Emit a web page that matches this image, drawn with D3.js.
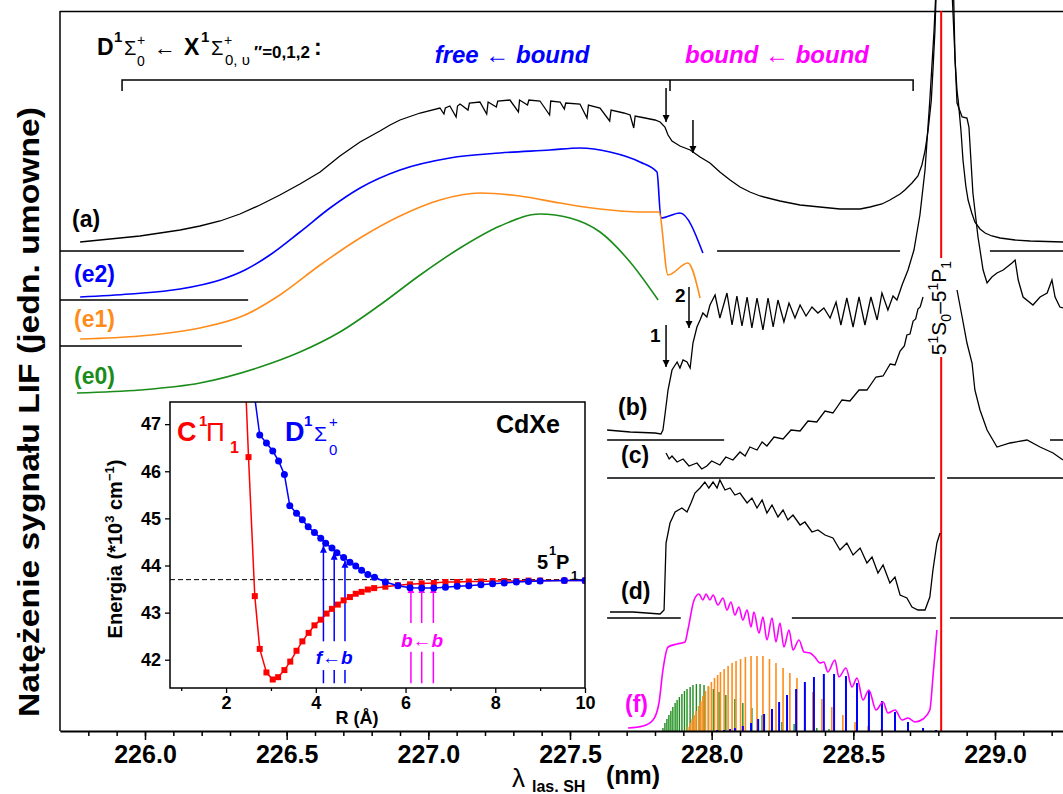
<!DOCTYPE html>
<meta charset="utf-8" />
<style>
  body { margin: 0; background: #fff; }
  svg text { font-family: "Liberation Sans", Arial, sans-serif; }
</style>
<svg width="1063" height="794"></svg>
<script src="https://d3js.org/d3.v7.min.js"></script>
<script>
// ---- widma LIF: [lambda (nm), natezenie (jedn. umowne)] ----
var traceA = [[225.771,489],[225.841,491],[225.912,493],[225.982,495],[226.053,498],[226.124,501],[226.194,505],[226.265,510],[226.335,517],[226.406,526],[226.476,536],[226.547,547],[226.618,559],[226.688,575],[226.759,589],[226.829,600],[226.865,606],[226.900,611],[226.971,618],[227.041,623],[227.055,617],[227.060,623],[227.076,625],[227.098,614],[227.103,625],[227.112,627],[227.140,621],[227.145,628],[227.182,629],[227.206,617],[227.211,629],[227.240,624],[227.245,630],[227.288,631],[227.318,619],[227.322,631],[227.350,626],[227.355,631],[227.394,630],[227.428,616],[227.432,630],[227.465,629],[227.480,622],[227.485,628],[227.535,627],[227.560,613],[227.565,626],[227.606,623],[227.640,610],[227.645,621],[227.690,618],[227.712,616],[227.725,603],[227.730,615],[227.765,613],[227.782,612],[227.800,611],[227.818,609],[227.835,604],[227.846,596],[227.860,590],[227.888,585],[227.924,581],[227.959,574],[227.994,568],[228.029,559],[228.065,551],[228.100,544],[228.135,539],[228.171,535],[228.241,530],[228.312,526],[228.382,524],[228.453,522],[228.524,522],[228.559,524],[228.601,527],[228.629,531],[228.665,537],[228.682,541],[228.707,548],[228.728,555],[228.742,566],[228.753,580],[228.764,601],[228.775,630],[228.781,661],[228.788,700],[228.795,761],[228.852,761],[228.859,671],[228.866,640],[228.870,631],[228.880,600],[228.887,571],[228.897,545],[228.905,531],[228.918,518],[228.929,509],[228.947,502],[228.965,498],[228.989,495],[229.018,493],[229.071,491],[229.124,490],[229.240,489]];

var traceB = [[227.631,301],[227.712,299],[227.800,298],[227.821,297],[227.828,301],[227.835,316],[227.846,341],[227.860,361],[227.878,369],[227.888,363],[227.899,371],[227.913,369],[227.924,363],[227.934,388],[227.948,404],[227.959,411],[227.969,418],[227.983,414],[227.994,426],[228.012,436],[228.029,413],[228.054,438],[228.072,406],[228.089,435],[228.107,405],[228.125,434],[228.142,403],[228.160,433],[228.181,401],[228.199,433],[228.217,404],[228.234,431],[228.255,409],[228.273,428],[228.294,413],[228.312,426],[228.333,415],[228.354,424],[228.375,418],[228.396,423],[228.418,413],[228.439,429],[228.456,406],[228.477,433],[228.499,404],[228.520,434],[228.541,406],[228.562,434],[228.584,411],[228.601,438],[228.622,421],[228.640,435],[228.654,431],[228.672,446],[228.693,461],[228.714,481],[228.735,516],[228.753,561],[228.770,631],[228.785,701],[228.795,761],[228.845,761],[228.866,628],[228.884,614],[228.901,613],[228.908,604],[228.922,538],[228.940,494],[228.958,461],[228.972,448],[228.989,454],[229.007,458],[229.029,461],[229.060,468],[229.071,471],[229.082,451],[229.099,434],[229.134,426],[229.159,434],[229.184,438],[229.201,451],[229.212,434],[229.229,424],[229.240,423]];

var traceCleft = [[227.839,278],[227.850,272],[227.860,275],[227.878,269],[227.899,272],[227.920,265],[227.948,268],[227.965,262],[227.983,265],[228.000,270],[228.029,266],[228.050,274],[228.075,271],[228.100,279],[228.118,275],[228.135,284],[228.160,281],[228.178,289],[228.195,285],[228.220,294],[228.252,292],[228.280,301],[228.312,300],[228.340,310],[228.371,309],[228.400,320],[228.428,318],[228.460,331],[228.488,330],[228.520,341],[228.548,341],[228.580,354],[228.605,355],[228.630,367],[228.647,366],[228.665,380],[228.680,385],[228.689,396],[228.700,397],[228.711,410],[228.720,412],[228.728,422],[228.736,424],[228.746,434]];
var traceCright = [[228.866,441],[228.884,414],[228.901,388],[228.919,368],[228.929,341],[228.947,321],[228.972,301],[229.007,284],[229.053,288],[229.113,291],[229.159,284],[229.205,278],[229.240,271]];

var traceD = [[227.641,119],[227.722,119],[227.818,117],[227.832,121],[227.839,188],[227.853,208],[227.871,219],[227.895,223],[227.913,219],[227.927,228],[227.941,238],[227.959,243],[227.976,249],[227.990,243],[228.005,249],[228.019,243],[228.029,251],[228.047,241],[228.065,243],[228.082,236],[228.100,238],[228.125,228],[228.142,233],[228.160,223],[228.178,231],[228.195,218],[228.213,226],[228.234,214],[228.252,221],[228.269,211],[228.287,216],[228.312,206],[228.329,209],[228.354,199],[228.375,201],[228.400,196],[228.428,193],[228.453,181],[228.477,188],[228.499,176],[228.524,183],[228.548,168],[228.566,174],[228.587,158],[228.605,166],[228.629,148],[228.647,154],[228.665,136],[228.689,133],[228.707,124],[228.728,121],[228.753,121],[228.770,134],[228.781,161],[228.795,188],[228.806,198]];

var traceF = [[227.705,3],[227.758,5],[227.793,11],[227.814,28],[227.828,61],[227.846,84],[227.878,87],[227.906,89],[227.916,101],[227.938,131],[227.955,137],[227.969,131],[227.980,137],[227.994,131],[228.005,136],[228.022,126],[228.040,133],[228.054,121],[228.068,129],[228.082,116],[228.096,124],[228.110,111],[228.125,121],[228.139,104],[228.149,119],[228.167,98],[228.181,114],[228.195,91],[228.213,113],[228.227,89],[228.241,108],[228.255,84],[228.273,101],[228.287,81],[228.308,91],[228.326,79],[228.347,78],[228.364,74],[228.382,68],[228.396,69],[228.410,59],[228.435,71],[228.449,54],[228.474,63],[228.495,44],[228.513,53],[228.534,31],[228.555,41],[228.580,21],[228.605,29],[228.622,18],[228.647,21],[228.672,11],[228.693,13],[228.718,9],[228.746,12],[228.770,21],[228.781,54],[228.795,101]];

// symulacje (e2, e1, e0)
var simE2 = [[225.771,434],[225.947,437],[226.124,442],[226.265,451],[226.353,461],[226.441,476],[226.547,499],[226.653,523],[226.759,543],[226.900,561],[227.076,573],[227.253,578],[227.429,581],[227.535,583],[227.641,579],[227.747,569],[227.807,559],[227.821,513],[227.888,518],[227.969,478]];
var simE1 = [[225.771,392],[225.982,395],[226.194,403],[226.353,416],[226.476,436],[226.618,466],[226.759,493],[226.900,515],[227.041,531],[227.182,538],[227.323,535],[227.465,528],[227.606,522],[227.747,519],[227.814,519],[227.846,456],[227.916,468],[227.959,433]];
var simE0 = [[225.760,338],[225.982,341],[226.194,348],[226.406,364],[226.547,379],[226.688,399],[226.829,426],[226.971,456],[227.112,483],[227.253,505],[227.394,517],[227.500,513],[227.606,499],[227.712,469],[227.811,431]];

// linie widma (f): [lambda, intensywnosc] dla v'' = 0, 1, 2
var barsV0 = [[227.828,3],[227.835,8],[227.842,12],[227.849,16],[227.856,20],[227.863,24],[227.871,28],[227.878,31],[227.886,34],[227.895,37],[227.904,40],[227.913,42],[227.924,44],[227.934,46],[227.946,47],[227.959,47],[227.973,46],[227.989,44],[228.006,42],[228.026,39],[228.050,36],[228.082,32],[228.110,28],[228.142,23],[228.178,16],[228.213,11],[228.248,9],[228.291,7],[228.329,5],[228.371,3],[228.414,2],[228.463,1]];
var barsV1 = [[227.916,4],[227.924,8],[227.931,12],[227.938,16],[227.945,20],[227.954,25],[227.962,30],[227.969,35],[227.978,40],[227.988,45],[227.999,49],[228.010,53],[228.021,56],[228.031,59],[228.044,62],[228.058,65],[228.072,68],[228.086,70],[228.102,72],[228.119,74],[228.139,75],[228.160,75],[228.181,75],[228.204,72],[228.227,68],[228.252,63],[228.276,58],[228.301,53],[228.329,46],[228.357,39],[228.389,32],[228.424,24],[228.463,16],[228.506,9],[228.552,5],[228.598,2]];
var barsV2 = [[228.019,1],[228.044,1],[228.065,2],[228.082,3],[228.110,5],[228.139,8],[228.164,12],[228.185,17],[228.213,22],[228.238,29],[228.266,36],[228.298,42],[228.329,49],[228.361,54],[228.396,57],[228.432,57],[228.474,55],[228.513,48],[228.555,40],[228.601,30],[228.647,19],[228.693,9],[228.746,3],[228.792,1]];

// poziomy zerowe: [od, do, poziom]
var baselines = [[225.700,226.349,480],[228.019,228.665,480],[228.982,229.240,480],
  [225.700,226.364,431],[225.700,226.342,385],
  [227.631,228.044,291],[229.194,229.240,291],
  [227.631,228.788,253],[228.831,229.240,253],
  [227.631,227.891,113],[228.283,228.792,113],[228.841,229.240,113]];

var cdLine = 228.81;
var arrows = [[227.839,643,609],[227.934,611,578],[227.839,406,364],[227.920,444,403]];
var bracketX = [225.919, 227.853, 228.711];
var majorTicks = [226.0, 226.5, 227.0, 227.5, 228.0, 228.5, 229.0];

// ---- wstawka: krzywe potencjalu CdXe [R (A), E (10^3 cm-1)] ----
var stateD = [[2.62,47.7],[2.75,46.77],[2.90,46.60],[3.04,46.43],[3.17,46.22],[3.30,45.93],[3.42,45.27],[3.57,45.11],[3.70,44.97],[3.83,44.82],[3.97,44.70],[4.11,44.58],[4.22,44.47],[4.36,44.37],[4.47,44.27],[4.62,44.17],[4.76,44.07],[4.89,43.99],[5.02,43.90],[5.16,43.81],[5.31,43.75],[5.55,43.65],[5.83,43.57],[6.10,43.53],[6.36,43.52],[6.63,43.52],[6.89,43.54],[7.15,43.56],[7.41,43.57],[7.68,43.59],[7.94,43.61],[8.20,43.63],[8.47,43.65],[8.74,43.66],[9.00,43.67],[9.54,43.68],[10.0,43.68]];
var stateC = [[2.44,47.7],[2.50,46.30],[2.64,43.35],[2.75,42.23],[2.90,41.73],[3.04,41.58],[3.16,41.63],[3.30,41.78],[3.43,41.96],[3.57,42.19],[3.70,42.39],[3.84,42.57],[3.97,42.73],[4.11,42.85],[4.24,42.98],[4.36,43.08],[4.49,43.17],[4.62,43.26],[4.76,43.33],[4.89,43.40],[5.02,43.44],[5.16,43.49],[5.30,43.52],[5.55,43.55],[5.83,43.58],[6.10,43.60],[6.36,43.62],[6.63,43.63],[6.89,43.65],[7.15,43.65],[7.41,43.66],[7.68,43.66],[7.94,43.67],[8.20,43.67],[8.47,43.67],[8.74,43.68],[9.00,43.68],[9.54,43.68],[10.0,43.68]];
var asymptote = 43.70;
var fbR = [4.17, 4.41, 4.65], fbTop = [44.42, 44.27, 44.10];
var bbR = [6.12, 6.36, 6.62], bbTop = [43.56, 43.56, 43.56];

var svg = d3.select("svg");
var x = d3.scaleLinear().domain([225.7, 229.24]).range([60, 1063]);
var y = d3.scaleLinear().domain([0, 720]).range([731, 11]);

var defs = svg.append("defs");
function marker(id, col) {
  defs.append("marker").attr("id", id).attr("viewBox", "0 0 10 10")
    .attr("refX", 10).attr("refY", 5).attr("markerWidth", 7).attr("markerHeight", 8)
    .attr("markerUnits", "userSpaceOnUse").attr("orient", "auto")
    .append("path").attr("d", "M0,0L10,5L0,10Z").attr("fill", col);
}
marker("ah", "#000"); marker("ahb", "#0000ff"); marker("ahm", "#ff00ff");

var lin = d3.line().x(function(d) { return x(d[0]); }).y(function(d) { return y(d[1]); });
var smooth = d3.line().curve(d3.curveMonotoneX).x(function(d) { return x(d[0]); }).y(function(d) { return y(d[1]); });

// frame
svg.append("line").attr("x1", 60).attr("x2", 60).attr("y1", 11).attr("y2", 731).attr("stroke", "#000").attr("stroke-width", 1.5);
svg.append("line").attr("x1", 60).attr("x2", 1063).attr("y1", 11.5).attr("y2", 11.5).attr("stroke", "#000").attr("stroke-width", 1.5);

// baselines
svg.append("g").selectAll("line").data(baselines).enter().append("line")
  .attr("x1", function(d) { return x(d[0]); }).attr("x2", function(d) { return x(d[1]); })
  .attr("y1", function(d) { return y(d[2]); }).attr("y2", function(d) { return y(d[2]); })
  .attr("stroke", "#000").attr("stroke-width", 1.5);

// red Cd line with gap for label
[[0, 374], [473, 720]].forEach(function(s) {
  svg.append("line").attr("x1", x(cdLine)).attr("x2", x(cdLine))
    .attr("y1", y(s[0])).attr("y2", y(s[1])).attr("stroke", "#ff0000").attr("stroke-width", 2);
});

// stick spectra
function bars(data, col, w) {
  svg.append("g").selectAll("line").data(data).enter().append("line")
    .attr("x1", function(d) { return x(d[0]); }).attr("x2", function(d) { return x(d[0]); })
    .attr("y1", y(0)).attr("y2", function(d) { return y(d[1]); })
    .attr("stroke", col).attr("stroke-width", w);
}
bars(barsV0, "#1a8c1a", 1.4);
bars(barsV1, "#ff8c1a", 1.6);
bars(barsV2, "#0000ff", 2);

// simulations
svg.append("path").datum(simE2).attr("d", smooth).attr("fill", "none").attr("stroke", "#0000ff").attr("stroke-width", 1.6);
svg.append("path").datum(simE1).attr("d", smooth).attr("fill", "none").attr("stroke", "#ff8c1a").attr("stroke-width", 1.6);
svg.append("path").datum(simE0).attr("d", smooth).attr("fill", "none").attr("stroke", "#1a8c1a").attr("stroke-width", 1.6);
svg.append("path").datum(traceF).attr("d", smooth).attr("fill", "none").attr("stroke", "#ff00ff").attr("stroke-width", 1.6);

// measured traces
[traceA, traceB, traceCleft, traceCright, traceD].forEach(function(t) {
  svg.append("path").datum(t).attr("d", lin).attr("fill", "none").attr("stroke", "#000").attr("stroke-width", 1.3);
});

// arrows
svg.append("g").selectAll("line").data(arrows).enter().append("line")
  .attr("x1", function(d) { return x(d[0]); }).attr("x2", function(d) { return x(d[0]); })
  .attr("y1", function(d) { return y(d[1]); }).attr("y2", function(d) { return y(d[2]); })
  .attr("stroke", "#000").attr("stroke-width", 1.5).attr("marker-end", "url(#ah)");

// bracket
svg.append("path").attr("d", "M" + x(bracketX[0]) + "," + y(640) + "V" + y(651) + "H" + x(bracketX[2]) + "V" + y(640) +
  "M" + x(bracketX[1]) + "," + y(651) + "V" + y(640)).attr("fill", "none").attr("stroke", "#000").attr("stroke-width", 1.5);

// x axis
var gMinor = svg.append("g").attr("transform", "translate(0,731)")
  .call(d3.axisBottom(x).tickValues(d3.range(2258, 2293).map(function(d) { return d / 10; })).tickSize(5).tickSizeOuter(0).tickFormat(""));
var gx = svg.append("g").attr("transform", "translate(0,731)")
  .call(d3.axisBottom(x).tickValues(majorTicks).tickSize(9).tickSizeOuter(0).tickPadding(5).tickFormat(d3.format(".1f")));
gMinor.selectAll(".tick line").attr("stroke-width", 1.5);
gx.select(".domain").attr("stroke-width", 2.2);
gx.selectAll(".tick line").attr("stroke-width", 1.5);
gx.selectAll("text").attr("font-size", 25).attr("font-weight", "bold").attr("font-family", "Liberation Sans, Arial, sans-serif").attr("fill", "#000");

// ---- inset ----
var ix = d3.scaleLinear().domain([0.75, 10]).range([170, 585]);
var iy = d3.scaleLinear().domain([41.4, 47.47]).range([688, 402]);
var ins = svg.append("g");
ins.append("rect").attr("x", 170).attr("y", 402).attr("width", 415).attr("height", 286).attr("fill", "#fff");
defs.append("clipPath").attr("id", "iclip").append("rect").attr("x", 170).attr("y", 402).attr("width", 415).attr("height", 286);
var ic = ins.append("g").attr("clip-path", "url(#iclip)");

ic.append("line").attr("x1", ix(0.75)).attr("x2", ix(10)).attr("y1", iy(asymptote)).attr("y2", iy(asymptote))
  .attr("stroke", "#000").attr("stroke-width", 1).attr("stroke-dasharray", "5,3");

var iline = d3.line().x(function(d) { return ix(d[0]); }).y(function(d) { return iy(d[1]); });
ic.append("path").datum(stateC).attr("d", iline).attr("fill", "none").attr("stroke", "#ff0000").attr("stroke-width", 1.5);
ic.append("path").datum(stateD).attr("d", iline).attr("fill", "none").attr("stroke", "#0000ff").attr("stroke-width", 1.5);

// transitions f<-b, b<-b
fbR.forEach(function(r, i) {
  ic.append("line").attr("x1", ix(r)).attr("x2", ix(r)).attr("y1", iy(42.39)).attr("y2", iy(fbTop[i]))
    .attr("stroke", "#0000ff").attr("stroke-width", 1.5).attr("marker-end", "url(#ahb)");
  ic.append("line").attr("x1", ix(r)).attr("x2", ix(r)).attr("y1", iy(41.5)).attr("y2", iy(41.78))
    .attr("stroke", "#0000ff").attr("stroke-width", 1.5);
});
bbR.forEach(function(r, i) {
  ic.append("line").attr("x1", ix(r)).attr("x2", ix(r)).attr("y1", iy(42.78)).attr("y2", iy(bbTop[i]))
    .attr("stroke", "#ff00ff").attr("stroke-width", 1.5).attr("marker-end", "url(#ahm)");
  ic.append("line").attr("x1", ix(r)).attr("x2", ix(r)).attr("y1", iy(41.5)).attr("y2", iy(42.17))
    .attr("stroke", "#ff00ff").attr("stroke-width", 1.5);
});

ic.selectAll("rect.sq").data(stateC.filter(function(d) { return d[1] < 47.47; })).enter().append("rect")
  .attr("x", function(d) { return ix(d[0]) - 3; }).attr("y", function(d) { return iy(d[1]) - 3; })
  .attr("width", 6).attr("height", 6).attr("fill", "#ff0000");
ic.selectAll("circle").data(stateD.filter(function(d) { return d[1] < 47.47; })).enter().append("circle")
  .attr("cx", function(d) { return ix(d[0]); }).attr("cy", function(d) { return iy(d[1]); })
  .attr("r", 3.5).attr("fill", "#0000ff");

ins.append("rect").attr("x", 170).attr("y", 402).attr("width", 415).attr("height", 286)
  .attr("fill", "none").attr("stroke", "#000").attr("stroke-width", 1.5);

var ib = ins.append("g").attr("transform", "translate(0,688)")
  .call(d3.axisBottom(ix).tickValues([2, 4, 6, 8, 10]).tickSize(5).tickSizeOuter(0).tickPadding(3).tickFormat(d3.format("d")));
var ibm = ins.append("g").attr("transform", "translate(0,688)")
  .call(d3.axisBottom(ix).tickValues([1, 3, 5, 7, 9]).tickSize(3).tickSizeOuter(0).tickFormat(""));
var il = ins.append("g").attr("transform", "translate(170,0)")
  .call(d3.axisLeft(iy).tickValues([42, 43, 44, 45, 46, 47]).tickSize(5).tickSizeOuter(0).tickPadding(4).tickFormat(d3.format("d")));
[ib, ibm, il].forEach(function(g) {
  g.select(".domain").remove();
  g.selectAll(".tick line").attr("stroke-width", 1.3);
  g.selectAll("text").attr("font-size", 18).attr("font-weight", "bold").attr("font-family", "Liberation Sans, Arial, sans-serif").attr("fill", "#000");
});

// ---- texts ----
var SANS = "Liberation Sans, Arial, sans-serif", SERIF = "Liberation Serif, Times New Roman, serif";
function txt(px, py, s, size, opts) {
  opts = opts || {};
  return svg.append("text").attr("x", px).attr("y", py).text(s)
    .attr("font-size", size).attr("font-family", opts.serif ? SERIF : SANS)
    .attr("font-weight", opts.bold === false ? "normal" : "bold")
    .attr("font-style", opts.italic ? "italic" : "normal")
    .attr("fill", opts.fill || "#000").attr("text-anchor", opts.anchor || "start");
}
// header
txt(97, 55, "D", 23); txt(114, 42, "1", 15); txt(124, 55, "Σ", 20, {serif: true, bold: false});
txt(137, 45, "+", 14, {serif: true, bold: false}); txt(137, 66, "0", 14, {serif: true, bold: false});
txt(154, 55, "←", 22, {bold: false});
txt(184, 55, "X", 23); txt(201, 42, "1", 15); txt(211, 55, "Σ", 20, {serif: true, bold: false});
txt(224, 45, "+", 14, {serif: true, bold: false}); txt(225, 65, "0, υ", 15, {serif: true, bold: false});
txt(254, 58, "″=0,1,2", 17); txt(314, 55, ":", 23);
txt(512, 63, "free ← bound", 24, {italic: true, fill: "#0000ff", anchor: "middle"});
txt(777, 63, "bound ← bound", 24, {italic: true, fill: "#ff00ff", anchor: "middle"});

// trace labels
txt(72, 227, "(a)", 23); txt(74, 282, "(e2)", 23, {fill: "#0000ff"});
txt(74, 327, "(e1)", 23, {fill: "#ff8c1a"}); txt(74, 384, "(e0)", 23, {fill: "#1a8c1a"});
txt(618, 415, "(b)", 23); txt(621, 463, "(c)", 23); txt(621, 599, "(d)", 23);
txt(625, 712, "(f)", 23, {fill: "#ff00ff"});
txt(675, 302, "2", 19); txt(650, 342, "1", 19);

// Cd atomic line label
var cdl = svg.append("text").attr("transform", "translate(946,308) rotate(-90)").attr("text-anchor", "middle")
  .attr("font-size", 21).attr("font-family", SANS);
cdl.append("tspan").text("5");
cdl.append("tspan").text("1").attr("font-size", 14).attr("dy", -8);
cdl.append("tspan").text("S").attr("dy", 8);
cdl.append("tspan").text("0").attr("font-size", 14).attr("dy", 5);
cdl.append("tspan").text("–5").attr("dy", -5);
cdl.append("tspan").text("1").attr("font-size", 14).attr("dy", -8);
cdl.append("tspan").text("P").attr("dy", 8);
cdl.append("tspan").text("1").attr("font-size", 14).attr("dy", 5);

// axis titles
svg.append("text").attr("transform", "translate(39,412) rotate(-90)").attr("text-anchor", "middle")
  .attr("font-size", 29).attr("font-weight", "bold").attr("font-family", SANS)
  .attr("textLength", 610).attr("lengthAdjust", "spacingAndGlyphs")
  .text("Natężenie sygnału LIF (jedn. umowne)");
txt(512, 787, "λ", 26, {bold: false});
txt(532, 792, "las. SH", 16);
txt(606, 784, "(nm)", 25);

// inset texts
txt(177, 441, "C", 27, {fill: "#ff0000"}); txt(199, 426, "1", 15, {fill: "#ff0000"});
txt(206, 441, "Π", 26, {serif: true, bold: false, fill: "#ff0000"}); txt(230, 453, "1", 16, {fill: "#ff0000"});
txt(285, 441, "D", 27, {fill: "#0000ff"}); txt(304, 426, "1", 15, {fill: "#0000ff"});
txt(314, 441, "Σ", 21, {serif: true, bold: false, fill: "#0000ff"});
txt(329, 427, "+", 15, {serif: true, bold: false, fill: "#0000ff"}); txt(329, 455, "0", 15, {serif: true, bold: false, fill: "#0000ff"});
txt(496, 433, "CdXe", 25);
txt(537, 569, "5", 20); txt(549, 555, "1", 13); txt(556, 569, "P", 20); txt(571, 580, "1", 13);
txt(ix(4.41), 664, "f←b", 19, {italic: true, fill: "#0000ff", anchor: "middle"});
txt(ix(6.37), 647, "b←b", 19, {italic: true, fill: "#ff00ff", anchor: "middle"});
txt(357, 724, "R (Å)", 18, {anchor: "middle"});
var en = svg.append("text").attr("transform", "translate(122,549) rotate(-90)").attr("text-anchor", "middle")
  .attr("font-size", 20).attr("font-weight", "bold").attr("font-family", SANS);
en.append("tspan").text("Energia (*10");
en.append("tspan").text("3").attr("font-size", 13).attr("dy", -8);
en.append("tspan").text(" cm").attr("dy", 8);
en.append("tspan").text("−1").attr("font-size", 13).attr("dy", -8);
en.append("tspan").text(")").attr("dy", 8);
</script>
